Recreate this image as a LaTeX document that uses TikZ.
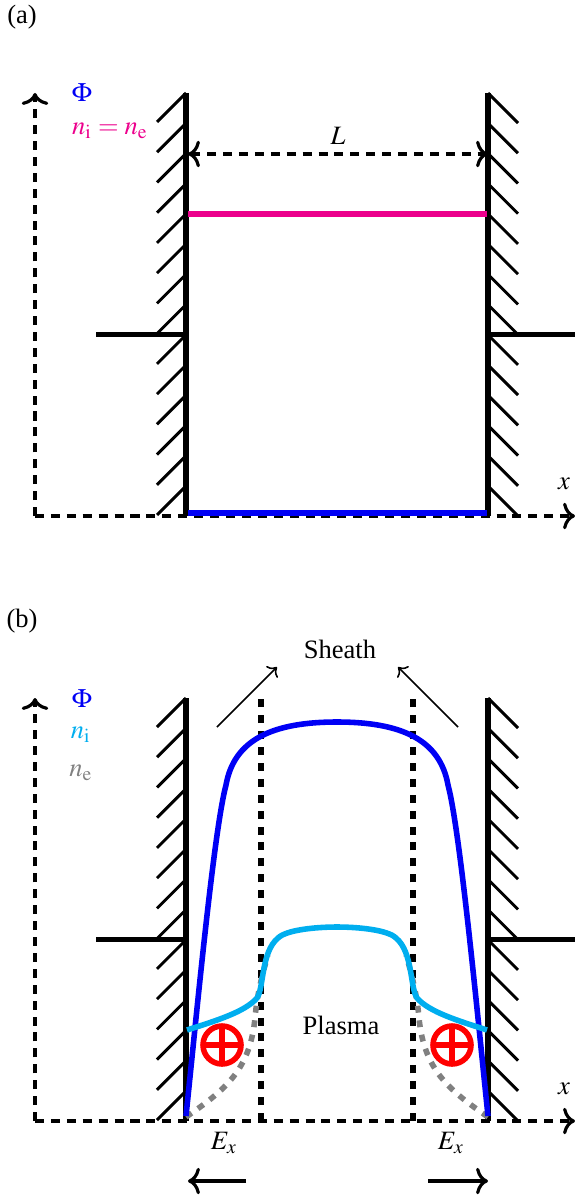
\documentclass[tikz,border=0pt]{standalone}
\usepackage{mathptmx}
\usepackage{fontspec}
\setmainfont{Liberation Serif}
\usetikzlibrary{arrows.meta}
\definecolor{pinkline}{RGB}{236,0,140}
\definecolor{cyanline}{RGB}{0,174,239}
\definecolor{blueline}{RGB}{0,0,245}
\tikzset{
    axisline/.style={dash pattern=on 3.4pt off 2.6pt, line width=1.15pt},
    wallline/.style={line width=1.9pt},
    hatchline/.style={line width=1.1pt},
    curveline/.style={line width=2.1pt},
    sheathline/.style={dash pattern=on 3pt off 3pt, line width=2.2pt},
    chargeline/.style={red, line width=2.1pt},
    bigtip/.style={-{Computer Modern Rightarrow[length=4.5pt, width=10pt, line width=1.2pt]}},
    twotip/.style={{Computer Modern Rightarrow[length=4.5pt, width=10pt, line width=1.2pt]}-{Computer Modern Rightarrow[length=4.5pt, width=10pt, line width=1.2pt]}},
}
\begin{document}
\begin{tikzpicture}[x=0.377pt, y=-0.377pt]
    \useasboundingbox (0,0) rectangle (575,1197);

    % Paredes y ejes de los dos paneles
    \foreach \yo in {0,605} {
        \begin{scope}[yshift=-\yo*0.377pt]
            \coordinate (corner) at (35,516);
            \coordinate (axistop) at (35,93);
            \coordinate (axisright) at (575,516);
            \foreach \n in {0,...,13} {
                \draw[hatchline] (186,93+30.23*\n) -- (157,122+30.23*\n);
                \draw[hatchline] (488,93+30.23*\n) -- (518,123+30.23*\n);
            }
            \draw[axisline, bigtip] (corner) -- (axistop);
            \draw[axisline, bigtip] (corner) -- (axisright);
            \draw[wallline] (186,93) -- (186,516);
            \draw[wallline] (488,93) -- (488,516);
            \draw[wallline] (96,334.5) -- (186,334.5);
            \draw[wallline] (488,334.5) -- (575,334.5);
            \node at (564,484) {$x$};
        \end{scope}
    }

    % Panel (a)
    \node (panela) at (22,17) {(a)};
    \node[blueline] (phia) at (82,93) {$\Phi$};
    \node[pinkline] (densa) at (110,131) {$n_{\mathrm{i}}=n_{\mathrm{e}}$};
    \coordinate (lleft) at (188,154);
    \coordinate (lright) at (488,154);
    \draw[axisline, twotip] (lleft) -- (lright);
    \node (llabel) at (338,136) {$L$};
    \draw[pinkline, wallline] (188,214) -- (487,214);
    \draw[blueline, wallline] (188,513) -- (487,513);

    % Panel (b)
    \node (panelb) at (22,621) {(b)};
    \node[blueline] (phib) at (82,699) {$\Phi$};
    \node[cyanline] (ionb) at (81,735) {$n_{\mathrm{i}}$};
    \node[gray] (elecb) at (81,773) {$n_{\mathrm{e}}$};

    % Limites de la vaina
    \draw[sheathline] (261,1121) -- (261,698);
    \draw[sheathline] (413,1121) -- (413,698);

    % Densidad de electrones
    \draw[gray, curveline, dash pattern=on 2.6pt off 2.9pt]
        (186,1117) .. controls (225,1090) and (250,1070) .. (255,1018)
        .. controls (257,995) and (262,975) .. (268,955);
    \draw[gray, curveline, dash pattern=on 2.6pt off 2.9pt]
        (488,1117) .. controls (449,1090) and (424,1070) .. (419,1018)
        .. controls (417,995) and (412,975) .. (406,955);

    % Potencial
    \draw[blueline, curveline]
        (186,1116) .. controls (197,1010) and (214,830) .. (226,785)
        .. controls (234,740) and (272,722) .. (337,722)
        .. controls (402,722) and (440,740) .. (448,785)
        .. controls (460,830) and (477,1010) .. (488,1116);

    % Densidad de iones
    \draw[cyanline, curveline]
        (187,1030) .. controls (215,1021) and (245,1012) .. (257,998)
        .. controls (264,988) and (261,952) .. (278,938)
        .. controls (286,930) and (315,927) .. (337,927)
        .. controls (359,927) and (388,930) .. (396,938)
        .. controls (413,952) and (410,988) .. (417,998)
        .. controls (429,1012) and (459,1021) .. (487,1030);

    % Cargas positivas
    \foreach \cx in {222,452} {
        \draw[chargeline] (\cx,1045) circle (19);
        \draw[chargeline] (\cx-16,1045) -- (\cx+16,1045);
        \draw[chargeline] (\cx,1029) -- (\cx,1061);
    }

    \node (plasma) at (341,1025) {Plasma};
    \node (sheath) at (340,649) {Sheath};
    \coordinate (sheathl) at (217,727);
    \coordinate (sheathr) at (458,727);
    \draw[->, line width=0.6pt] (sheathl) -- (277,667);
    \draw[->, line width=0.6pt] (sheathr) -- (398,667);

    % Campo electrico
    \node (exl) at (224,1143) {$E_x$};
    \node (exr) at (451,1143) {$E_x$};
    \coordinate (fieldl) at (246,1181);
    \coordinate (fieldr) at (428,1181);
    \draw[bigtip, line width=1.3pt] (fieldl) -- (188,1181);
    \draw[bigtip, line width=1.3pt] (fieldr) -- (488,1181);
\end{tikzpicture}
\end{document}
